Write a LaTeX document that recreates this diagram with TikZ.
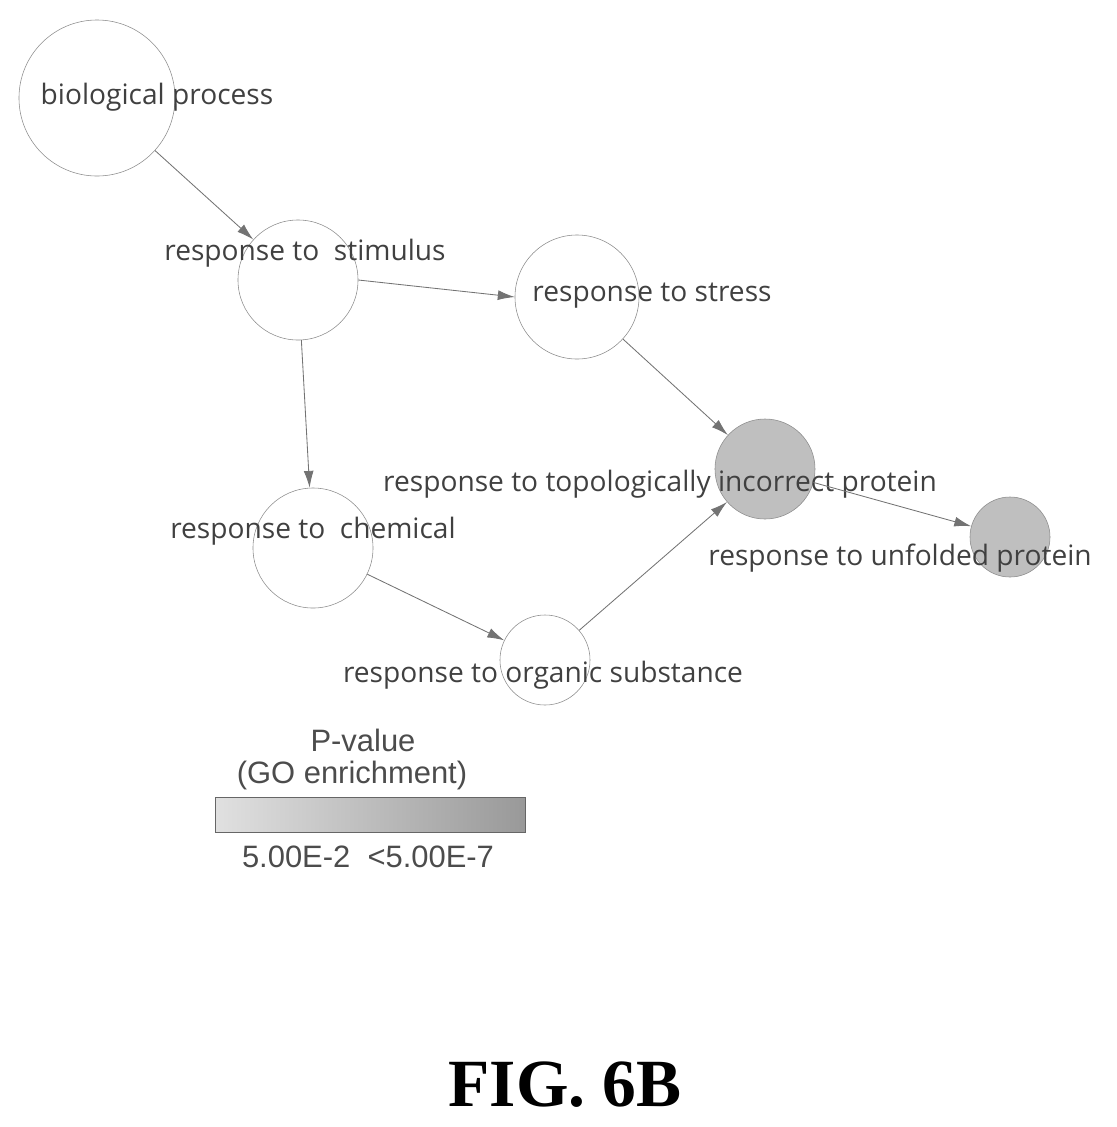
\documentclass[tikz,border=0pt]{standalone}
\usepackage{fontspec}
\setmainfont{Liberation Serif}
\newfontfamily\labfont{Open Sans}
\newfontfamily\legfont{Liberation Sans}
\usetikzlibrary{arrows.meta}
\begin{document}
\begin{tikzpicture}[x=0.025cm,y=-0.025cm,
term/.style={
circle,
draw=black!45,
thin,
inner sep=0
},
hit/.style={
term,
fill=black!25
},
tlabel/.style={
font=\labfont\fontsize{20}{22}\selectfont,
text=black!75
},
link/.style={
-{Latex[length=12pt,width=7pt]},
draw=black!55,
semithick
}]
\useasboundingbox (0,0) rectangle (1117,1127);

\node [term,minimum size=3.9cm] (bio) at (97,98) {};
\node [term,minimum size=3.0cm] (stim) at (298,280) {};
\node [term,minimum size=3.1cm] (stress) at (577,297) {};
\node [term,minimum size=3.0cm] (chem) at (313,548) {};
\node [term,minimum size=2.25cm] (org) at (545,660) {};
\node [hit,minimum size=2.5cm] (topo) at (765,469) {};
\node [hit,minimum size=2.0cm] (unf) at (1010,537) {};

\node [tlabel] (bioL) at (157,97) {biological process};
\node [tlabel] (stimL) at (305,253) {response to\ \ stimulus};
\node [tlabel] (stressL) at (652,296) {response to stress};
\node [tlabel] (chemL) at (313,531) {response to\ \ chemical};
\node [tlabel] (orgL) at (543,675) {response to organic substance};
\node [tlabel] (topoL) at (660,484) {response to topologically incorrect protein};
\node [tlabel] (unfL) at (900,558) {response to unfolded protein};

\draw[link] (bio) -- (stim);
\draw[link] (stim.east) -- (stress.west);
\draw[link] (stim) -- (chem);
\draw[link] (stress) -- (topo);
\draw[link] (chem) -- (org);
\draw[link] (org) -- (topo);
\draw[link] (topo) -- (unf);

% legend
\node [font=\legfont\fontsize{22}{24}\selectfont,text=black!70] (pv) at (363,740) {P-value};
\node [font=\legfont\fontsize{22}{24}\selectfont,text=black!70] (go) at (352,775) {(GO enrichment)};
\shade [left color=black!12,right color=black!40,draw=black!60] (215,797) rectangle (525,832);
\node [font=\legfont\fontsize{22}{24}\selectfont,text=black!70] (range) at (368,857) {5.00E-2\ \ <5.00E-7};

\node [font=\bfseries\fontsize{48}{52}\selectfont] (fig) at (565,1085) {FIG. 6B};
\end{tikzpicture}
\end{document}
